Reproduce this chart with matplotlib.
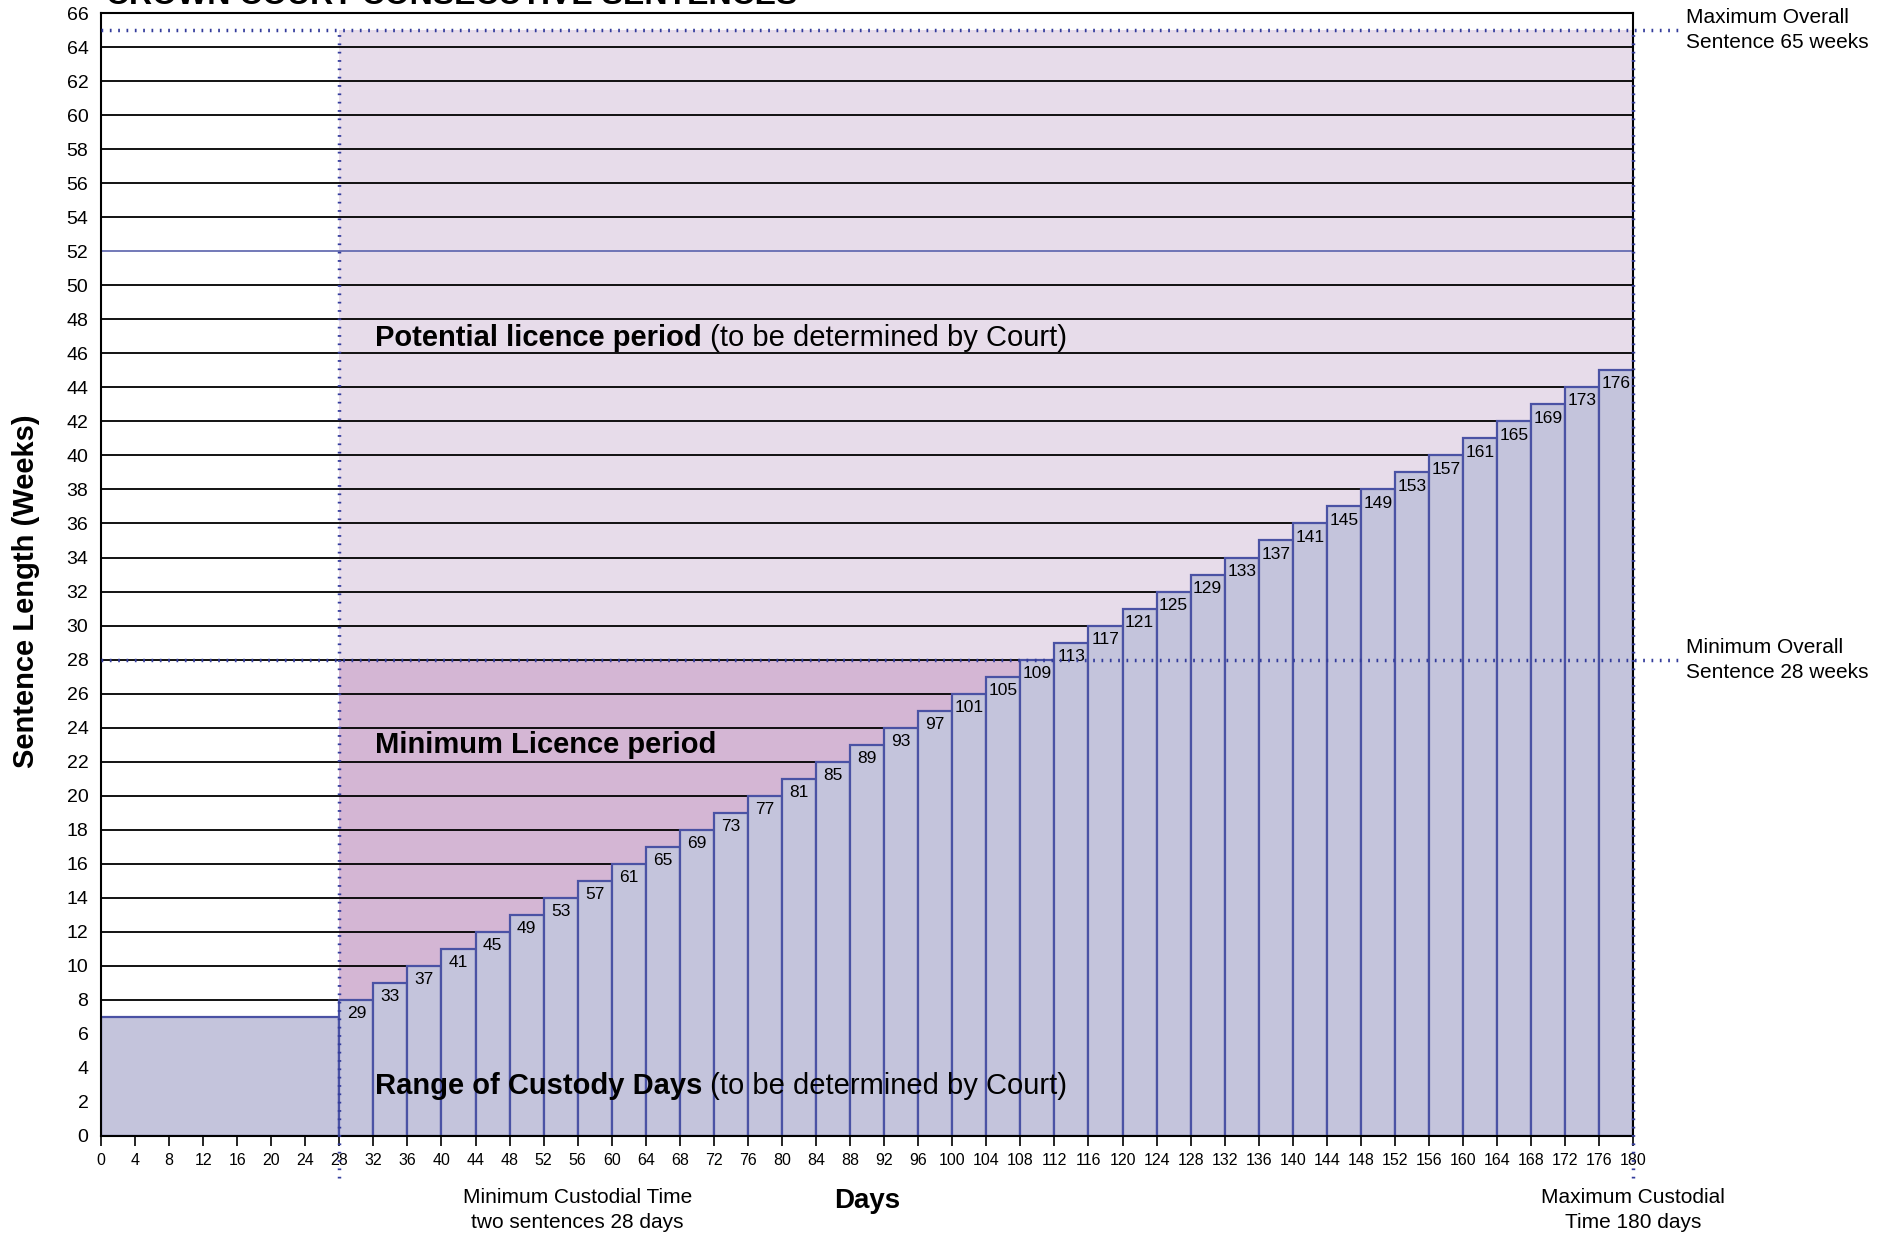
import matplotlib
matplotlib.use("Agg")
import matplotlib.pyplot as plt

plt.rcParams["font.family"] = ["Liberation Sans", "DejaVu Sans"]

# ------------------------------
# Data
# ------------------------------
bar_start = [0, 28, 32, 36, 40, 44, 48, 52, 56, 60, 64, 68, 72, 76, 80, 84, 88,
             92, 96, 100, 104, 108, 112, 116, 120, 124, 128, 132, 136, 140, 144,
             148, 152, 156, 160, 164, 168, 172, 176]
bar_width = [28, 4, 4, 4, 4, 4, 4, 4, 4, 4, 4, 4, 4, 4, 4, 4, 4, 4, 4, 4, 4, 4,
             4, 4, 4, 4, 4, 4, 4, 4, 4, 4, 4, 4, 4, 4, 4, 4, 4]
weeks = [7, 8, 9, 10, 11, 12, 13, 14, 15, 16, 17, 18, 19, 20, 21, 22, 23, 24,
         25, 26, 27, 28, 29, 30, 31, 32, 33, 34, 35, 36, 37, 38, 39, 40, 41, 42,
         43, 44, 45]
day_labels = ["", "29", "33", "37", "41", "45", "49", "53", "57", "61", "65",
              "69", "73", "77", "81", "85", "89", "93", "97", "101", "105",
              "109", "113", "117", "121", "125", "129", "133", "137", "141",
              "145", "149", "153", "157", "161", "165", "169", "173", "176"]

x_ticks = list(range(0, 181, 4))
y_ticks = list(range(0, 67, 2))

min_custody = 28
max_custody = 180
min_sentence = 28
max_sentence = 65
one_year = 52

# colours
bar_fill = "#c4c4dc"
bar_edge = "#4a52a4"
light_pink = "#e7dcea"
dark_pink = "#d4b6d4"
dot_col = "#333c9c"

fig = plt.figure(figsize=(18.83, 12.35), dpi=100)
ax = fig.add_axes([0.0536, 0.0802, 0.8138, 0.9092])
ax.set_xlim(0, 180)
ax.set_ylim(0, 66)

# licence period shading
ax.fill_between([min_custody, max_custody], 0, max_sentence, color=light_pink, zorder=0.5, lw=0)
ax.fill_between([min_custody, max_custody], 0, min_sentence, color=dark_pink, zorder=0.6, lw=0)

# horizontal grid lines
for y in y_ticks[1:-1]:
    if y == one_year:
        ax.axhline(y, color="#5a62ac", lw=1.2, zorder=1)
    else:
        ax.axhline(y, color="black", lw=1.3, zorder=1)

# bars
ax.bar(bar_start, weeks, width=bar_width, align="edge", color=bar_fill,
       edgecolor=bar_edge, linewidth=1.6, zorder=2)

for s, w, h, lab in zip(bar_start, bar_width, weeks, day_labels):
    if lab:
        ax.text(s + w / 2, h - 0.8, lab, ha="center", va="center", fontsize=12.5, zorder=4)

# dotted reference lines
dots = dict(color=dot_col, lw=2.5, linestyle=(0, (0.5, 1.9)), zorder=5, clip_on=False)
ax.plot([0, 185.3], [max_sentence, max_sentence], **dots)
ax.plot([0, 185.3], [min_sentence, min_sentence], **dots)
ax.plot([min_custody, min_custody], [-2.5, max_sentence], **dots)
ax.plot([max_custody, max_custody], [-2.5, max_sentence], **dots)

# axes styling
ax.set_xticks(x_ticks)
ax.set_yticks(y_ticks)
ax.tick_params(axis="x", direction="out", length=7, width=1.2, labelsize=11.5, pad=5)
ax.tick_params(axis="y", length=0, labelsize=14, pad=9)
for sp in ax.spines.values():
    sp.set_linewidth(1.5)
    sp.set_color("black")
    sp.set_zorder(3)

# region labels
def mixed(x, y, bold, normal):
    t = ax.text(x, y, bold, fontsize=21, fontweight="bold", va="center", ha="left", zorder=6)
    if normal:
        ax.annotate(normal, xy=(1, 0), xycoords=t, va="bottom", ha="left", fontsize=21, zorder=6)

mixed(32.2, 46.9, "Potential licence period", " (to be determined by Court)")
mixed(32.2, 23.0, "Minimum Licence period", "")
mixed(32.2, 2.96, "Range of Custody Days", " (to be determined by Court)")

# side / bottom notes
ax.text(186.2, 65, "Maximum Overall\nSentence 65 weeks", fontsize=15, ha="left", va="center",
        linespacing=1.4, clip_on=False)
ax.text(186.2, 28, "Minimum Overall\nSentence 28 weeks", fontsize=15, ha="left", va="center",
        linespacing=1.4, clip_on=False)
fig.text(ax.transData.transform((56, 0))[0] / fig.bbox.width, 0.0203,
         "Minimum Custodial Time\ntwo sentences 28 days", fontsize=15, ha="center", va="center",
         linespacing=1.4)
fig.text(ax.transData.transform((180, 0))[0] / fig.bbox.width, 0.0203,
         "Maximum Custodial\nTime 180 days", fontsize=15, ha="center", va="center",
         linespacing=1.4)

fig.text(0.4605, 0.0277, "Days", fontsize=20, fontweight="bold", ha="center", va="center")
fig.text(0.0138, 0.521, "Sentence Length (Weeks)", fontsize=21, fontweight="bold",
         rotation=90, ha="center", va="center")

# title (partly above the page edge, as in the original)
fig.text(0.0563, 0.9968, "CROWN COURT CONSECUTIVE SENTENCES", fontsize=23,
         fontweight="bold", ha="left", va="baseline")

fig.savefig("out.png", dpi=100)
